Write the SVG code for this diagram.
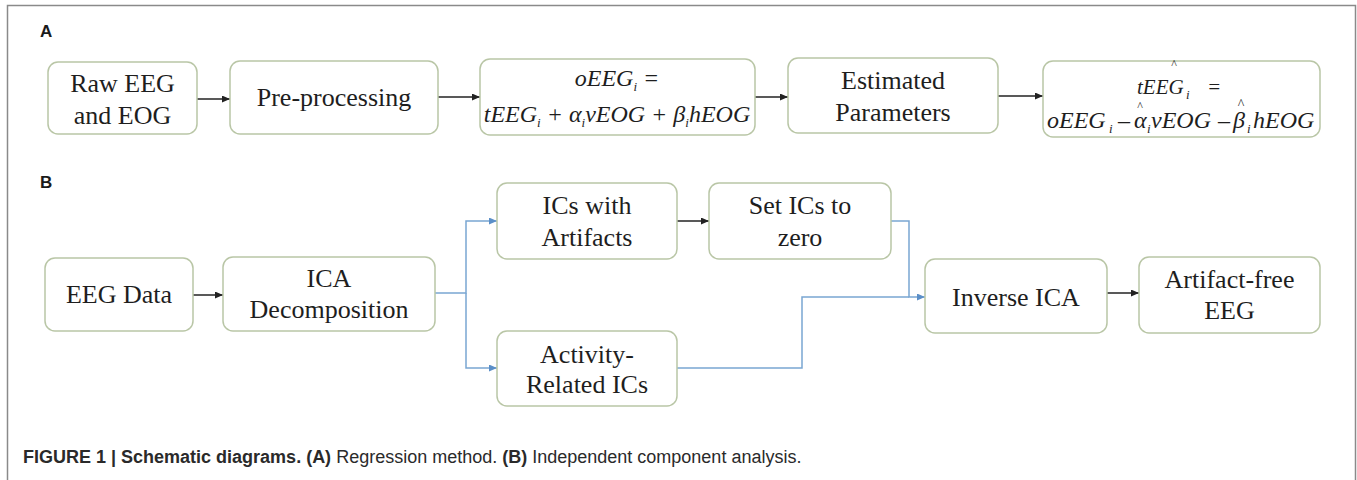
<svg xmlns="http://www.w3.org/2000/svg" width="1357" height="480" viewBox="0 0 1357 480">
  <style>
    .frame { fill: none; stroke: #8a8a8a; stroke-width: 1.5; }
    .box { fill: #ffffff; stroke: #b9c6a6; stroke-width: 1.5; }
    .lbl { font-family: "Liberation Serif", "Times New Roman", serif; font-size: 26px; fill: #1e1e1e; text-anchor: middle; }
    .eq { font-family: "Liberation Serif", "Times New Roman", serif; font-style: italic; font-size: 24px; fill: #1e1e1e; text-anchor: middle; }
    .eqs { font-family: "Liberation Serif", "Times New Roman", serif; font-style: italic; font-size: 24px; fill: #1e1e1e; }
    .hat { font-family: "Liberation Serif", "Times New Roman", serif; font-size: 12px; fill: #1e1e1e; text-anchor: middle; }
    .sub { font-size: 13px; }
    .panel { font-family: "Liberation Sans", Arial, sans-serif; font-weight: bold; font-size: 17px; fill: #1a1a1a; }
    .cap { font-family: "Liberation Sans", Arial, sans-serif; font-size: 18px; fill: #2a2a2a; }
    .b { font-weight: bold; }
    .k { fill: none; stroke: #222222; stroke-width: 1.5; marker-end: url(#ak); }
    .bl { fill: none; stroke: #7aa6d2; stroke-width: 1.5; }
    .bla { marker-end: url(#ab); }
  </style>
  <defs>
    <marker id="ak" markerUnits="userSpaceOnUse" markerWidth="9" markerHeight="8" refX="8" refY="3.5" orient="auto">
      <path d="M0,0 L8,3.5 L0,7 z" fill="#222222"/>
    </marker>
    <marker id="ab" markerUnits="userSpaceOnUse" markerWidth="9" markerHeight="8" refX="8" refY="3.5" orient="auto">
      <path d="M0,0 L8,3.5 L0,7 z" fill="#5b8fc8"/>
    </marker>
  </defs>

  <rect width="1357" height="480" fill="#ffffff"/>
  <!-- figure frame: top, left and right edges -->
  <path class="frame" d="M7.5,481 V5.5 H1355.5 V481"/>

  <!-- panel letters -->
  <text class="panel" x="40" y="37">A</text>
  <text class="panel" x="40" y="188">B</text>

  <!-- connectors -->
  <g id="connectors">
    <path class="k" d="M197,99 H230"/>
    <path class="k" d="M438,97 H480"/>
    <path class="k" d="M755,97 H788"/>
    <path class="k" d="M998,96 H1043"/>
    <path class="k" d="M193,295 H223"/>
    <path class="k" d="M677,221 H709"/>
    <path class="k" d="M1107,293 H1139"/>
    <path class="bl bla" d="M435,293 H466 V221 H497"/>
    <path class="bl bla" d="M466,293 V368 H497"/>
    <path class="bl bla" d="M891,221 H909 V297 H925"/>
    <path class="bl" d="M677,368 H802 V297 H909"/>
  </g>

  <!-- A: regression method -->
  <g id="raw-eeg">
    <rect class="box" x="48" y="62" width="149" height="72" rx="10"/>
    <text class="lbl" x="122.5" y="92">Raw EEG</text>
    <text class="lbl" x="122.5" y="124">and EOG</text>
  </g>
  <g id="preprocessing">
    <rect class="box" x="230" y="61" width="208" height="73" rx="10"/>
    <text class="lbl" x="334" y="106">Pre-processing</text>
  </g>
  <g id="model">
    <rect class="box" x="480" y="59" width="275" height="76" rx="10"/>
    <text class="eq" x="617" y="86">oEEG<tspan class="sub" dy="5">i</tspan><tspan dy="-5"> =</tspan></text>
    <text class="eq" x="617" y="122">tEEG<tspan class="sub" dy="5">i</tspan><tspan dy="-5"> + α</tspan><tspan class="sub" dy="5">i</tspan><tspan dy="-5">vEOG + β</tspan><tspan class="sub" dy="5">i</tspan><tspan dy="-5">hEOG</tspan></text>
  </g>
  <g id="estimated-parameters">
    <rect class="box" x="788" y="58" width="210" height="75" rx="10"/>
    <text class="lbl" x="893" y="89">Estimated</text>
    <text class="lbl" x="893" y="121">Parameters</text>
  </g>
  <g id="corrected-eeg">
    <rect class="box" x="1043" y="61" width="277" height="76" rx="10"/>
    <!-- estimate hats -->
    <text class="hat" x="1174" y="68">^</text>
    <text class="hat" x="1140" y="110">^</text>
    <text class="hat" x="1241" y="109" style="font-size:14px">^</text>
    <text class="eqs" y="94" style="font-size:21px"><tspan x="1137">tEEG</tspan><tspan class="sub" x="1186" dy="5">i</tspan><tspan x="1207" dy="-5">=</tspan></text>
    <text class="eqs" y="128"><tspan x="1047">oEEG</tspan><tspan class="sub" x="1109" dy="5">i</tspan><tspan x="1118" dy="-5">–</tspan><tspan x="1134">α</tspan><tspan class="sub" x="1147" dy="5">i</tspan><tspan x="1151" dy="-5">vEOG</tspan><tspan x="1218">–</tspan><tspan x="1233">β</tspan><tspan class="sub" x="1247" dy="5">i</tspan><tspan x="1253" dy="-5">hEOG</tspan></text>
  </g>

  <!-- B: independent component analysis -->
  <g id="eeg-data">
    <rect class="box" x="45" y="258" width="148" height="73" rx="10"/>
    <text class="lbl" x="119" y="303">EEG Data</text>
  </g>
  <g id="ica-decomposition">
    <rect class="box" x="223" y="257" width="212" height="74" rx="10"/>
    <text class="lbl" x="329" y="287">ICA</text>
    <text class="lbl" x="329" y="318">Decomposition</text>
  </g>
  <g id="ics-with-artifacts">
    <rect class="box" x="497" y="183" width="180" height="76" rx="10"/>
    <text class="lbl" x="587" y="214">ICs with</text>
    <text class="lbl" x="587" y="246">Artifacts</text>
  </g>
  <g id="set-ics-zero">
    <rect class="box" x="709" y="183" width="182" height="76" rx="10"/>
    <text class="lbl" x="800" y="214">Set ICs to</text>
    <text class="lbl" x="800" y="246">zero</text>
  </g>
  <g id="activity-related">
    <rect class="box" x="497" y="331" width="180" height="75" rx="10"/>
    <text class="lbl" x="587" y="363">Activity-</text>
    <text class="lbl" x="587" y="393">Related ICs</text>
  </g>
  <g id="inverse-ica">
    <rect class="box" x="925" y="259" width="182" height="74" rx="10"/>
    <text class="lbl" x="1016" y="306">Inverse ICA</text>
  </g>
  <g id="artifact-free">
    <rect class="box" x="1139" y="257" width="181" height="76" rx="10"/>
    <text class="lbl" x="1229.5" y="288">Artifact-free</text>
    <text class="lbl" x="1229.5" y="319">EEG</text>
  </g>

  <!-- caption -->
  <text class="cap" x="23" y="463"><tspan class="b">FIGURE 1 | Schematic diagrams. (A)</tspan> Regression method. <tspan class="b">(B)</tspan> Independent component analysis.</text>
</svg>
